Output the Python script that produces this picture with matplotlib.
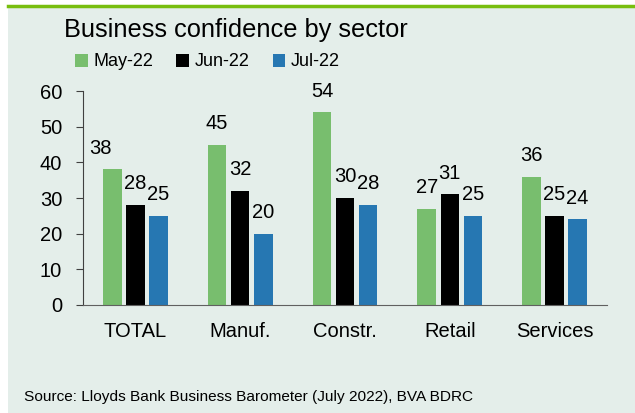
import matplotlib.pyplot as plt
import numpy as np
from matplotlib.patches import Rectangle
from matplotlib.lines import Line2D

plt.rcParams['font.family'] = ['Liberation Sans', 'DejaVu Sans']

sectors = ["TOTAL", "Manuf.", "Constr.", "Retail", "Services"]
months = ["May-22", "Jun-22", "Jul-22"]
may_22 = [38, 45, 54, 27, 36]
jun_22 = [28, 32, 30, 31, 25]
jul_22 = [25, 20, 28, 25, 24]

colors = ["#78BE6E", "#000000", "#2677B2"]
bg = "#E4EEEA"

fig = plt.figure(figsize=(6.35, 4.13), dpi=100)
fig.patch.set_facecolor("white")

# panel background and the green rule along the top
fig.add_artist(Rectangle((8 / 635, 0), 1, 1 - 6 / 413, transform=fig.transFigure,
                         facecolor=bg, edgecolor="none", zorder=-10))
fig.add_artist(Line2D([8 / 635, 1], [1 - 5.5 / 413, 1 - 5.5 / 413], transform=fig.transFigure,
                      color="#78BE0E", lw=2.5))

ax = fig.add_axes([83 / 635, 1 - 305 / 413, 524 / 635, 214 / 413])
ax.set_facecolor("none")

x = np.arange(len(sectors))
width = 0.177
step = 0.22
series = [may_22, jun_22, jul_22]

for i, (vals, c, lab) in enumerate(zip(series, colors, months)):
    pos = x + (i - 1) * step
    ax.bar(pos, vals, width=width, color=c, label=lab, zorder=2)
    for j, (p, v) in enumerate(zip(pos, vals)):
        dx = -0.11 if (i == 0 and j == 0) else 0
        ax.annotate(str(v), (p + dx, v), xytext=(0, 8.5), textcoords="offset points",
                    ha="center", va="bottom", fontsize=14.5)

ax.set_xlim(-0.5, len(sectors) - 0.5)
ax.set_ylim(0, 60)
ax.set_yticks(range(0, 61, 10))
ax.set_xticks(x)
ax.set_xticklabels(sectors)
ax.tick_params(axis="y", labelsize=14.5, length=5, direction="out", pad=10, color="#404040")
ax.tick_params(axis="x", labelsize=14.5, length=0, pad=12)
for s in ["top", "right"]:
    ax.spines[s].set_visible(False)
ax.spines["left"].set_color("#404040")
ax.spines["bottom"].set_color("#606060")

fig.text(64 / 635, 1 - 37 / 413, "Business confidence by sector", fontsize=18.3, va="baseline")

leg = fig.legend(loc="center left", bbox_to_anchor=(66 / 635, 1 - 62 / 413), ncol=3,
                 frameon=False, fontsize=13, handlelength=0.7, handleheight=0.7,
                 handletextpad=0.3, columnspacing=1.3, borderpad=0)

fig.text(24 / 635, 1 - 401 / 413, "Source: Lloyds Bank Business Barometer (July 2022), BVA BDRC",
         fontsize=11.1, va="baseline")

fig.savefig("out.png", dpi=100, facecolor=fig.get_facecolor())
